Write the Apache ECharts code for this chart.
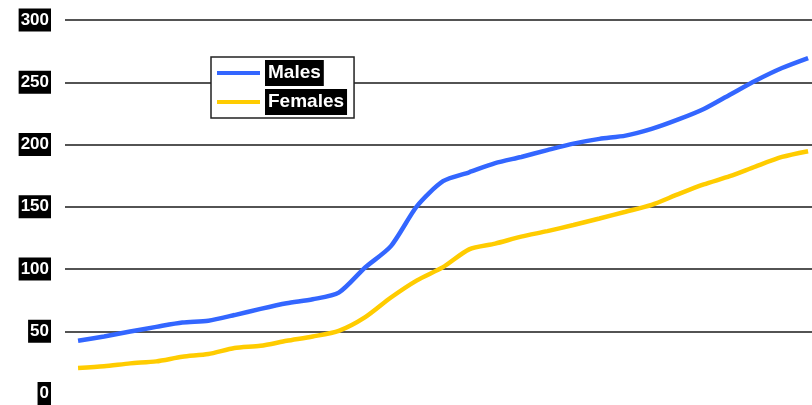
<!DOCTYPE html>
<html>
<head>
<meta charset="utf-8">
<script src="https://cdn.jsdelivr.net/npm/echarts@6/dist/echarts.min.js"></script>
<style>html,body{margin:0;padding:0;background:#fff;}#c{width:812px;height:405px;}</style>
</head>
<body>
<div id="c"></div>
<script>
var categories = ['1','2','3','4','5','6','7','8','9','10','11','12','13','14','15','16','17','18','19','20','21','22','23','24','25','26','27','28','29'];
var males = [42.3, 45.8, 49.8, 53.5, 57, 58.5, 63, 68, 72.5, 75.7, 81, 101, 118.4, 150.5, 170.5, 177.7, 185, 190, 195.5, 200.7, 204.5, 207.1, 212.5, 219.9, 228.5, 240, 251.4, 261.4, 269.4];
var females = [20.4, 21.8, 24.2, 25.8, 29.5, 31.7, 36.5, 38.3, 42.3, 45.8, 50.3, 61.1, 77.1, 90.9, 101.5, 115.8, 120.4, 126, 130.4, 135.3, 140.6, 146, 151.5, 159.9, 167.9, 174.5, 182.5, 190, 194.6];
var seriesNames = ['Males', 'Females'];
var yTicks = { min: 0, max: 300, interval: 50 };

function pairs(vals) { return vals.map(function (v, i) { return [i, v]; }); }

var chart = echarts.init(document.getElementById('c'));
var gridColor = '#1a1a1a';
chart.setOption({
  animation: false,
  backgroundColor: '#fff',
  grid: { left: 65, right: 0, top: 20, bottom: 10.5 },
  legend: {
    orient: 'vertical',
    left: 211, top: 57,
    backgroundColor: '#fff',
    borderColor: '#222', borderWidth: 1.5,
    padding: [3, 7, 3, 6],
    itemGap: 3,
    itemWidth: 43, itemHeight: 4,
    icon: 'rect',
    data: seriesNames,
    textStyle: {
      color: '#fff', backgroundColor: '#000',
      fontFamily: 'Liberation Sans, Arial, sans-serif',
      fontWeight: 'bold', fontSize: 19, lineHeight: 20,
      padding: [3, 3]
    }
  },
  xAxis: {
    type: 'value', min: -0.5, max: categories.length - 1 + 0.15,
    axisLine: { show: false }, axisTick: { show: false }, axisLabel: { show: false },
    splitLine: { show: false }
  },
  yAxis: {
    type: 'value', min: yTicks.min, max: yTicks.max, interval: yTicks.interval,
    axisLine: { show: false }, axisTick: { show: false },
    axisLabel: {
      margin: 14, color: '#fff', backgroundColor: '#000',
      fontFamily: 'Liberation Sans, Arial, sans-serif',
      fontWeight: 'bold', fontSize: 17, lineHeight: 17, padding: [3, 2]
    },
    splitLine: { show: true, lineStyle: { width: 1.5, color: ['rgba(0,0,0,0)', gridColor, gridColor, gridColor, gridColor, gridColor, gridColor] } }
  },
  series: [
    { name: seriesNames[0], type: 'line', data: pairs(males), symbol: 'none', smooth: 0.25,
      lineStyle: { color: '#3366ff', width: 4.5 }, itemStyle: { color: '#3366ff' }, z: 3 },
    { name: seriesNames[1], type: 'line', data: pairs(females), symbol: 'none', smooth: 0.25,
      lineStyle: { color: '#ffcc00', width: 4.5 }, itemStyle: { color: '#ffcc00' }, z: 2 }
  ]
});
</script>
</body>
</html>
